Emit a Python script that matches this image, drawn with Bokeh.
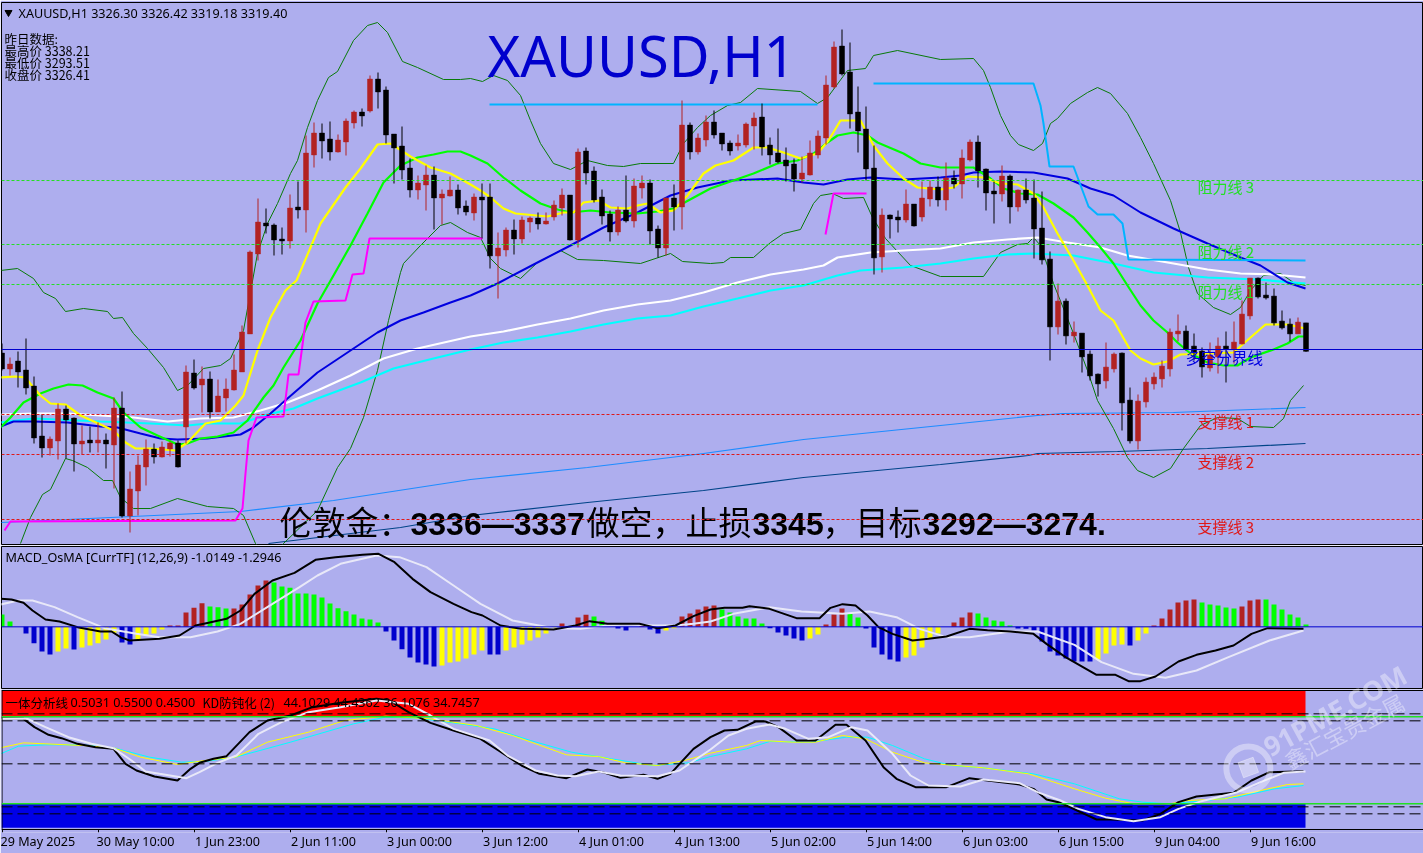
from bokeh.plotting import figure
from bokeh.layouts import column
from bokeh.models import Range1d, Span, LinearAxis, FixedTicker
from bokeh.core.properties import value
from bokeh.embed import file_html
from bokeh.resources import INLINE

# ---------------- candles (XAUUSD H1), oldest first ----------------
opens = [3318.75,3315,3316.75,3314.5,3310.5,3298,3295.25,3297,3304.75,3302.5,3296.25,3297,3296.5,3297,3296,3305,3278.25,3284.5,3290.5,3294.75,
3293,3295,3296.25,3300.5,3313.75,3311,3312.25,3304.25,3307.75,3309.75,3314.25,3323.75,3343.75,3351.25,3350.75,3347.25,3347,3355.25,3354.75,3368.5,
3373.75,3372.25,3369.25,3371.75,3376.5,3379,3379.5,3387.25,3384.5,3373.5,3370.5,3365,3359.75,3361,3363.25,3357.75,3358.25,3359.5,3355.5,3354,
3357.75,3357.75,3343.25,3344.75,3349.5,3347.5,3351.75,3352.5,3351.25,3353,3355.25,3358.25,3347.25,3369.25,3364.25,3357.75,3353.5,3349.25,3354.5,3352,
3360.25,3361.25,3349.75,3345.25,3357.5,3355.5,3375.75,3369.25,3372.25,3376.5,3373.75,3371.25,3370.75,3371,3375.75,3377.75,3370.75,3368.75,3367,3366,
3362.5,3363.5,3368.5,3372.75,3385.5,3395.5,3389,3379,3374.75,3365,3343,3353.25,3352.75,3352.25,3356,3353,3357.5,3360.25,3357.25,3362.5,
3361.25,3367.25,3371.5,3364.75,3359.25,3358.75,3363,3355.5,3359.5,3357.5,3350,3342.25,3325.5,3331.75,3323.25,3323.75,3318.5,3313.5,3312,3315,
3318.75,3307,3297,3306.75,3311.25,3312.5,3315,3323.75,3324.25,3320.5,3319.25,3315.25,3318,3320.5,3320,3321.25,3328.25,3337.5,3333.25,3333,
3326.75,3326,3323.75,3326.3]
highs = [3321.25,3317.75,3319.25,3322.5,3313,3303.5,3298,3306.25,3305.75,3302.75,3300.75,3300.5,3301.5,3298.75,3307.75,3309.25,3289.25,3293.25,3297.25,3296.25,
3296.75,3296.75,3297,3315.75,3317.25,3315.5,3314.25,3312.25,3312.5,3318.5,3325.75,3344.5,3357.5,3355,3351.25,3350.25,3358.5,3361.75,3373.25,3376.5,
3376.25,3376.75,3373.5,3377.5,3379.5,3380,3388.25,3389,3385.5,3373.5,3375.5,3367.5,3363.25,3365.75,3365.5,3359.75,3363,3361,3357,3358.75,
3361.25,3361.25,3349,3350.25,3352.25,3353,3353,3354,3354,3357,3360,3358.25,3370,3370.25,3365.5,3359.75,3354.5,3355.5,3363.25,3362.5,
3363.25,3362.25,3350.75,3357.75,3361,3382,3376.5,3373.75,3378.25,3379.5,3373.75,3372,3373.5,3376.5,3379,3381.25,3372.75,3375,3370.25,3367.5,
3368,3372,3374.5,3388.25,3396.75,3399.75,3396.5,3385.5,3380.5,3370.75,3355,3353.5,3354.5,3359.75,3356,3361.75,3362,3363,3366.5,3364.5,
3369.75,3372.25,3373.25,3365,3361.75,3365.75,3363.5,3359.75,3362.5,3362.25,3359.25,3344.25,3336.25,3332.5,3326.75,3323.75,3319.5,3313.75,3321.5,3319,
3319,3310.25,3308.5,3312.75,3314,3317,3325,3328.5,3325.75,3323.75,3320.25,3321.5,3322.75,3324.25,3326.75,3332,3337.5,3337.75,3336.5,3335,
3329.5,3327.5,3327.75,3326.42]
lows = [3314.5,3313.25,3310.25,3308.5,3296.25,3292.75,3293.25,3292.25,3292.5,3289.25,3293.5,3294,3294,3290,3285,3277.75,3274,3278.25,3285.75,3291.25,
3292.75,3293,3290.25,3296.25,3309.75,3304,3302.5,3304.25,3304.25,3309.5,3314.25,3323.75,3342,3348.75,3343.25,3343.5,3345,3352.5,3349,3365.25,
3367.5,3367,3369,3368.25,3375,3375.5,3379,3380,3371.25,3361.25,3362.25,3357.75,3357.25,3354.5,3349.75,3351,3358,3353.5,3353.25,3352,
3347.5,3340,3332.5,3343,3343.5,3346.25,3349,3349.75,3351,3352,3353.25,3347,3345.25,3361,3356.5,3351,3346.75,3348.25,3351.5,3350.25,
3357.5,3346,3342.75,3343.25,3349.5,3349.75,3367.25,3368.5,3370.5,3372.5,3369.5,3368.25,3369.5,3370.25,3369.75,3368.25,3366,3366.25,3361.75,3359.25,
3361.5,3363.25,3367.5,3371,3385,3388.25,3375,3369,3362,3338.5,3339,3347.5,3349,3351.5,3350.5,3351.75,3355.5,3355.5,3354.5,3360,
3357.5,3366.75,3360.25,3354.5,3351.25,3356.75,3351.25,3354.25,3356.25,3342.5,3341,3317,3323.5,3321,3321.5,3314,3312,3308,3310,3314,
3299.5,3296.25,3294.75,3305.25,3309.75,3310.25,3313,3321.75,3319.5,3317,3312.75,3314.25,3313.75,3311.5,3316.25,3321,3327.25,3332.5,3332.25,3325.75,
3324.75,3321.75,3323.75,3319.18]
closes = [3315,3316,3314.25,3310.25,3297.75,3295.25,3297.25,3304.75,3302.25,3296.25,3296.75,3296.5,3297,3296.25,3305,3278.25,3284.75,3290.75,3294.75,3293,
3295.25,3296.25,3290.5,3314,3310.25,3312.25,3304.25,3308,3309.75,3314.5,3324,3344,3351.5,3350.75,3347.25,3347,3355,3354.75,3368.75,3373.75,
3372,3369.25,3372,3376.75,3379,3378.25,3387.25,3384.25,3373.5,3370.25,3364.75,3359.75,3361.25,3363.25,3357.75,3358.5,3359.5,3355.25,3354.25,3357.75,
3357.25,3343.25,3345,3349.5,3347.5,3352,3352.5,3351.25,3351.75,3355.75,3358.25,3347.25,3369,3364,3357.25,3353.25,3349.25,3354.5,3352,3360.5,
3361.25,3349.5,3345.25,3357.5,3355.5,3375.75,3369.25,3372.5,3376.5,3373.5,3371.25,3369.5,3371.25,3376,3377.5,3370.5,3368.5,3366.75,3365.75,3362.5,
3363.75,3368.75,3373,3385.75,3395.25,3388.75,3378.75,3374.5,3365,3342.75,3353.25,3352.5,3352.25,3356,3350.75,3357.5,3360.25,3357.25,3362.5,3361.25,
3367.5,3371.5,3364.5,3359,3358.75,3363,3355.5,3359.5,3357.25,3350,3342.25,3325.5,3331.75,3323.25,3324,3318,3313.25,3311.25,3315.25,3318.5,
3306.5,3297,3306.75,3311.5,3312.75,3315.5,3324,3324.25,3320,3319,3315.5,3318.25,3320.5,3320,3321.5,3328.5,3337.5,3333,3332.75,3326.5,
3325.25,3323.75,3326.5,3319.4]

# ---------------- main pane overlays: time in 1/8 of a bar, value in price ----------------
yellow_t = [0,15,25,32,40,50,65,80,100,113,125,135,150,175,187,205,220,235,243,257,270,285,296,310,320,345,360,377,390,410,430,450,470,480,490,503,515,547,563,573,583,598,610,627,637,647,660,673,687,703,715,733,753,767,783,800,817,828,840,860,873,887,903,917,940,953,967,983,1000,1017,1033,1043,1057,1073,1087,1100,1113,1130,1140,1153,1167,1180,1207,1233,1250,1265,1287,1305]
yellow_p = [3312.75,3313,3312.75,3310.5,3308.25,3306.25,3306,3303.25,3301,3299.5,3296.5,3295,3295,3294.5,3296.5,3301.25,3302,3305.75,3308.25,3319.5,3327.75,3334.5,3337,3345.25,3351.25,3360.25,3365,3371,3371.25,3368,3365.25,3363.75,3361,3359.5,3357.75,3355,3353.75,3353,3354,3354,3356.5,3357,3355.25,3355,3355.75,3356.25,3354,3354.5,3358.25,3363.75,3365.75,3367,3370.25,3370.25,3369,3367.5,3368.75,3372,3377,3377,3370.75,3366.25,3362.5,3360.25,3359.75,3360.25,3363,3362.75,3361.25,3361,3358.75,3355.25,3348.75,3342,3335.75,3329.5,3327,3319.5,3317.5,3316,3316.75,3318.5,3318.75,3319,3322.75,3326,3326,3325]
green_t = [0,10,23,40,53,68,82,97,113,123,140,157,177,187,200,217,233,247,263,273,283,300,317,333,350,367,383,400,417,433,447,460,470,487,503,520,540,557,570,590,610,637,657,673,697,710,730,753,777,797,813,827,837,853,867,877,903,920,940,973,990,1003,1020,1037,1053,1073,1087,1100,1113,1127,1140,1153,1167,1177,1190,1207,1223,1237,1250,1273,1287,1298,1305]
green_p = [3300.25,3302.75,3306.5,3308.75,3310,3311,3310.75,3309,3307.5,3304,3300.25,3298.25,3296,3296.25,3297.5,3298,3299,3302,3307.75,3310.75,3315.25,3322,3331.25,3338.25,3345.75,3353.75,3361.5,3365.75,3367.75,3368.5,3369.25,3369.25,3368.25,3366.25,3362.75,3359.5,3356.25,3354.75,3354,3354.5,3354,3353.75,3354.25,3355,3358.25,3360,3361.75,3363.75,3366.25,3367,3368.75,3371.5,3373.25,3374,3373.25,3371.5,3368.75,3366.25,3365.25,3365.25,3362.5,3360,3358.75,3358.5,3356.25,3352.75,3349,3345.25,3341.25,3335.75,3330.75,3327,3324,3321.5,3318.75,3316.5,3315.75,3315.75,3317.75,3319.75,3321.25,3323,3323]
blue_t = [0,13,33,67,100,117,140,160,177,207,240,253,270,287,317,350,377,400,423,450,470,497,537,570,603,637,670,697,730,777,803,823,847,870,903,940,960,973,1000,1033,1067,1090,1113,1140,1173,1207,1240,1260,1287,1305]
blue_p = [3300.5,3301.75,3301.75,3301.5,3300.5,3300.25,3298.75,3297.5,3297.25,3297.5,3298.5,3300.25,3303.75,3307.5,3314,3319.5,3324,3327,3329,3331.5,3333.25,3336.25,3341.5,3345.75,3350.25,3354,3358.25,3360.25,3362,3362.5,3361.5,3361,3362.25,3362.75,3362.25,3362.75,3363.25,3364,3364.25,3364,3362.5,3360,3358.25,3354,3350,3346.25,3342.75,3340.75,3336.5,3335]
white_t = [0,33,67,100,133,167,200,233,260,287,317,350,383,417,470,503,537,570,603,637,670,703,737,770,803,823,837,870,903,940,973,1007,1037,1067,1100,1127,1173,1207,1240,1273,1305]
white_p = [3303.5,3303.75,3303.75,3303.25,3302.75,3301.75,3302.5,3302.75,3304.5,3306.5,3309.5,3313.25,3317.5,3320,3323,3324.25,3326,3327.5,3329.5,3331,3332,3334,3336.5,3338.5,3339.75,3340.75,3342.75,3344,3344.5,3345,3346.5,3347.25,3347.75,3346.5,3345.25,3343.25,3341.25,3339.75,3338.75,3338.5,3337.75]
cyan_t = [0,33,100,150,187,207,240,267,293,317,360,393,433,470,503,537,570,603,637,670,703,737,770,803,837,860,903,940,973,1007,1033,1073,1113,1153,1207,1257,1305]
cyan_p = [3301.5,3302.5,3301.75,3301.25,3300.75,3301.25,3301.25,3303.5,3305,3307.5,3311.5,3315,3317.5,3319.75,3321.5,3322.75,3324.25,3326,3327.5,3328.25,3330.5,3332.5,3334.5,3335.75,3338.25,3339.5,3340.25,3341.25,3342.5,3343.5,3343.75,3343.25,3341.25,3339,3337.75,3337.25,3336.25]
bb_up_t = [0,17,33,43,55,65,83,107,113,122,133,147,163,177,187,203,220,230,243,257,267,277,290,297,307,317,328,337,353,367,377,387,402,417,443,460,470,482,493,507,520,530,540,553,570,587,607,623,640,673,683,697,710,727,740,757,800,817,827,847,865,873,897,940,973,983,990,1000,1010,1018,1033,1042,1050,1057,1070,1087,1097,1110,1127,1140,1153,1170,1180,1188,1197,1213,1230,1240,1250,1263,1280,1293,1305]
bb_up_p = [3339.5,3340,3337.5,3334,3332.5,3329.25,3330,3329.25,3327.5,3327.75,3323.75,3320,3315.25,3309.5,3310.75,3315,3315.75,3317.5,3324.5,3343.75,3351.25,3356.25,3363.75,3367,3375.25,3382,3387.75,3389.25,3397,3400.75,3401.5,3399,3391.75,3390.25,3387.25,3387.25,3387.5,3386.75,3388.25,3387,3383.25,3377,3371.25,3366.25,3364.75,3367,3365.75,3365.5,3366.25,3366.25,3371.25,3375.25,3378.25,3380.75,3381.5,3385,3384.25,3381.25,3382.75,3389.5,3390,3393.25,3394.5,3392.25,3392.5,3389.5,3385.25,3378.25,3373.25,3371,3369.5,3371.25,3376.25,3377.5,3381.25,3384,3385.25,3383.75,3378.75,3372.75,3366.25,3357,3349,3340.25,3333.75,3330.25,3328.5,3330.25,3334.5,3338.25,3338.75,3336.5,3335.75]
bb_lo_t = [20,30,42,50,65,72,87,103,112,120,133,150,177,207,233,243,255,270,283,317,337,350,363,377,388,400,403,420,440,450,467,480,490,500,520,537,560,577,603,640,670,682,710,723,730,753,770,783,800,813,820,832,843,863,872,885,910,940,983,1000,1017,1027,1033,1040,1053,1073,1087,1097,1113,1127,1137,1153,1170,1183,1200,1217,1237,1250,1273,1283,1290,1303]
bb_lo_p = [3271.25,3277.75,3283.5,3284.75,3292.5,3292,3290.25,3287,3287,3282.75,3280,3280,3282.5,3280.5,3280,3278.25,3271.25,3267,3271.25,3279.5,3290.25,3295,3302.75,3314.5,3327,3339,3341.25,3345.75,3350.75,3351.5,3349,3347.75,3342.5,3340,3337.5,3341.5,3344.5,3342.25,3342,3341.25,3343.75,3341.75,3341.25,3341.5,3342.75,3342.75,3346.5,3348.75,3349.75,3356.25,3358.25,3358.75,3357.5,3357.75,3352.75,3347.5,3340.75,3338,3338,3344,3346,3346.25,3347.75,3345.75,3336.25,3323.75,3314.5,3307,3300,3292.75,3289.5,3287.75,3290,3295,3300.75,3302.75,3302.5,3300.5,3300.25,3302.5,3307,3310.75]
magenta1_t = [4,10,235,242,245,248,256,283,288,298,305,313,345,352,363,369,482]
magenta1_p = [3274.5,3276.75,3277,3280,3288.75,3297,3302.75,3303,3313.5,3313.5,3326.5,3331.75,3332,3338.5,3338.75,3347.5,3347.5]
magenta2_t = [825,833,866]
magenta2_p = [3348.5,3358.75,3358.75]
sky1_t = [489,817]
sky1_p = [3381,3381]
sky2_t = [873,1033,1040,1043,1049,1073,1088,1097,1113,1122,1128,1305]
sky2_p = [3386.25,3386.25,3380.75,3376.25,3365.5,3365.5,3355.5,3353.5,3353.5,3351.25,3342.25,3342]
dodger_t = [0,67,240,333,470,587,703,803,940,1037,1062,1173,1305]
dodger_p = [3276.5,3277.25,3279.25,3282,3287.25,3290.25,3293.75,3297.25,3300.75,3303.25,3303.75,3304,3305.25]
navy_t = [268,400,470,587,703,803,940,1028,1037,1117,1207,1305]
navy_p = [3271.25,3275.25,3278.25,3281.5,3284.5,3287.75,3291,3293.25,3293.75,3294.25,3295,3296.25]
resistance_levels = [3362, 3346, 3336]
support_levels = [3303.5, 3293.5, 3277.25]
pivot_level = 3319.75

# ---------------- MACD pane ----------------
osma = [9.25,4,0,-5,-12.25,-18.5,-20.75,-18.5,-16.25,-17,-15.5,-14,-12.25,-9.5,-4.5,-11.75,-13.25,-10,-6.75,-5,-2,1,1,10.75,14.25,17.75,15.25,14.75,13.75,13.75,16.75,24.25,31,34.75,33.25,30.25,29.25,25,25,24.25,22,17.5,14,11.75,9.25,6.25,5.5,3.25,-3.5,-10.25,-16.75,-23,-26.75,-28.25,-29.75,-29,-26.75,-26,-23.75,-20.75,-17.75,-20.75,-20.75,-17.75,-15.5,-13.25,-10.25,-8,-5,-2,2.5,0,7,9,7.75,4.5,0,-1.25,-2.75,0,1,-2,-5,-2.75,-1,7.75,10,13,15.25,16,13,10.75,7.75,6.25,6.25,2.5,-1,-4.25,-6.5,-8.75,-10.25,-8.75,-5.75,1.75,9.25,13.75,10,7,-1.25,-15.5,-20.75,-24.5,-26,-23,-21.5,-15.5,-8.75,-5,0,3.25,7,10.75,10,7,4.75,4,1,-1.25,-1.5,-2.75,-11,-18.5,-21.5,-23.75,-26,-26,-26,-24.5,-20,-14,-13.25,-14,-10.25,-5,1,6.25,13,18.25,19.75,20.5,18.25,16.75,16,14.5,13.75,15.25,19.75,20.5,20.5,16.75,13,9.25,7,1.75]
osma_state = list("ggnbbbbyybyyyyybbyyyyrrrrrgggrrrrrggggggggggggggbbbbbbbyyyyyybbyyyyyyyrnrrggnbbnrbbyyrrrrrggggggbbbbbyyrrrggbbbbbyyyyynrrrggggg" "bbbbbbbbbbyyyybyyrrrrrrgggggrrrgggggg")
macd_t = [0,11,23,32,45,59,77,100,111,120,129,159,179,195,208,226,240,254,272,294,315,335,362,378,394,412,430,453,471,482,500,521,553,575,589,607,639,657,675,693,710,724,742,749,769,796,819,830,842,855,867,878,892,912,928,946,969,987,1010,1033,1046,1065,1096,1115,1128,1140,1155,1178,1196,1215,1233,1251,1267,1303]
macd_v = [21,20.5,18,12.25,5.5,4,-0.25,-3.5,-3.5,-7.75,-10.25,-9,-6.5,1,3,6,12.25,24.75,34.75,40.5,50.25,52.25,54,54.75,48.5,36,26,17.25,11,8.5,1,-1.5,-2,1,4.25,2.25,2.25,-1,1,8,13,14.25,14.25,15.5,13.5,6.5,6.5,14.25,17,16,8.5,-0.25,-5.25,-10.25,-9,-7.25,-1.5,-2.5,-3.5,-5.25,-12.75,-22.75,-36,-36,-40.75,-40.75,-37.25,-26,-21,-17.75,-14,-5.25,-1,-1.5]
signal_t = [0,18,32,54,77,104,136,159,190,217,240,272,299,317,340,376,399,426,453,480,512,553,580,607,625,652,675,693,710,733,769,801,842,869,896,919,946,969,1010,1037,1074,1101,1133,1165,1196,1228,1269,1303]
signal_v = [16.75,19.75,19.75,14.75,7.25,-1,-5.25,-7.75,-7.75,-3.5,2.25,17.25,29.75,38.5,47.25,53.5,52.25,44.75,31,17.25,4.75,-1,-1.5,1,2,1,1,2.25,4,9.75,14.75,11.5,9.75,11.5,7.25,-1.5,-7.75,-7.75,-3.5,-3.5,-13.5,-26.5,-35.25,-38.25,-32.75,-22.75,-10.25,-2.75]

# ---------------- KD pane ----------------
k_black_t = [0,23,34,48,61,77,95,113,125,136,154,177,190,199,213,226,249,267,290,312,340,376,389,408,430,453,480,498,521,539,566,587,602,620,643,657,670,693,710,724,737,755,765,778,796,815,835,846,865,883,896,915,946,969,987,1019,1033,1046,1060,1096,1110,1142,1160,1178,1196,1233,1251,1269,1303]
k_black_v = [82.25,81.75,75.5,69.75,67.25,63,60.5,59.25,48,43,38.5,35.5,44.25,48.75,51.75,53.75,71.75,80.5,84.25,90.5,93.75,96.75,95.5,86.75,78.75,73,66.75,58,46.75,40.5,37.25,43.75,41.75,37.5,39.75,36.75,40.5,59.25,68,73,73.5,79.75,79.75,75.5,65.5,65.5,77.25,77.25,65.5,45.5,36.75,30.5,30.5,37.25,35.5,32.5,29.25,21.25,18.75,6.25,6.25,5.5,10.5,19.25,23.5,26.25,35.5,41.75,42.5]
k_white_t = [0,27,45,68,91,113,131,145,159,186,199,217,236,258,281,308,340,376,408,430,453,489,507,535,557,575,598,620,657,679,710,728,746,769,785,808,828,851,867,892,910,928,960,983,1019,1037,1060,1078,1105,1133,1160,1178,1201,1237,1260,1283,1305]
k_white_v = [81.75,81.75,75.5,68,63,59.75,50.5,42.25,40.5,37.25,41.75,48.75,54.25,70.5,79.25,86.75,90.5,95.5,93,84.25,74.25,65.5,54.25,43,39.25,38.75,42.25,39.25,38.75,43,58.75,69.25,74.25,77.5,74.25,66.75,68,75.5,73,55.5,39.25,31.75,31,36.25,33.5,26.75,20.5,14.25,8,5,8,14.25,20,26.75,34.25,41.25,42.25]
d_yellow_t = [0,23,45,82,113,140,177,204,235,267,308,344,385,430,476,512,566,598,625,657,684,710,746,760,792,815,842,865,892,924,983,1028,1074,1105,1133,1169,1187,1224,1260,1287,1303]
d_yellow_v = [60,63.75,63,61.75,60,53,47.5,50.5,53,64.25,71.75,80.5,83.75,81.75,76.75,69.25,54.75,53.5,48.75,46.75,50.5,56,61.75,65.5,64.25,64.25,69.25,66.75,56.75,48.75,45,40.5,29.25,22.25,18,18,20.5,21.75,28,32.5,33]
d_cyan_t = [0,18,45,82,113,149,181,204,235,290,353,385,417,453,494,530,571,611,652,688,710,746,769,810,846,867,892,924,951,983,1033,1074,1119,1142,1169,1205,1237,1274,1303]
d_cyan_v = [55.5,61.25,62.25,62.25,60,53,49.25,49.75,53,64.25,78,83,82.25,78.75,74.25,65.5,56.75,51.75,46.75,48.75,53.5,59.25,64.75,64.25,68,68,61.75,51.75,46.75,45,40.5,33,21.75,19.25,18,20.5,23,29.25,31.75]
kd_upper_band = 83.25
kd_lower_band = 18
kd_dashes = [85.5, 80.25, 48, 15.75, 10.5]

tick_labels = ["29 May 2025","30 May 10:00","1 Jun 23:00","2 Jun 11:00","3 Jun 00:00","3 Jun 12:00","4 Jun 01:00",
               "4 Jun 13:00","5 Jun 02:00","5 Jun 14:00","6 Jun 03:00","6 Jun 15:00","9 Jun 04:00","9 Jun 16:00"]

BG = "#AEAEEE"
BAR_UNIT = 8          # time units per bar
FIRST_BAR = 1.5
BROWN = "#B22222"
CJK = "Noto Sans CJK SC"
LATIN = "Noto Sans"


def pane(height, y0, y1, top, bottom, below=False, outline="black"):
    f = figure(width=1423, height=height, output_backend="svg", toolbar_location=None,
               x_range=Range1d(1, 1423), y_range=Range1d(y0, y1),
               x_axis_location="below" if below else None, y_axis_location=None,
               background_fill_color=BG, border_fill_color=BG, outline_line_color=outline,
               min_border_left=1, min_border_right=0, min_border_top=top, min_border_bottom=bottom)
    f.grid.visible = False
    return f


def put(f, x, y, s, size, color="black", font=LATIN, style="normal", angle=0, alpha=1.0, align="left"):
    f.text(x=[x], y=[y], text=[s], text_font=value(font), text_font_size=f"{size}px", text_color=color,
           text_font_style=style, text_baseline="middle", text_align=align, angle=angle, text_alpha=alpha)


def hline(f, level, color, dash="solid", width=1):
    f.add_layout(Span(location=level, dimension="width", line_color=color, line_dash=dash, line_width=width))


# ---------------- main pane ----------------
p1 = pane(545, 3271, 3406.5, 2, 1)
for lv in resistance_levels:
    hline(p1, lv, "#22E022", "3 2")
for lv in support_levels:
    hline(p1, lv, "#E01818", "3 2")
hline(p1, pivot_level, "#0000CD")

p1.line(dodger_t, dodger_p, line_color="#1E8CFF", line_width=1.2)
p1.line(navy_t, navy_p, line_color="#004488", line_width=1.2)
p1.line(bb_up_t, bb_up_p, line_color="#087A08", line_width=1)
p1.line(bb_lo_t, bb_lo_p, line_color="#087A08", line_width=1)
p1.line(white_t, white_p, line_color="white", line_width=2.2)
p1.line(cyan_t, cyan_p, line_color="#00FFFF", line_width=2.2)
p1.line(blue_t, blue_p, line_color="#0000E0", line_width=2)
p1.line(green_t, green_p, line_color="#00FF00", line_width=2.2)
p1.line(yellow_t, yellow_p, line_color="#FFFF00", line_width=2.2)
p1.line(magenta1_t, magenta1_p, line_color="#FF00FF", line_width=2)
p1.line(magenta2_t, magenta2_p, line_color="#FF00FF", line_width=2)
p1.line(sky1_t, sky1_p, line_color="#00B4FF", line_width=2)
p1.line(sky2_t, sky2_p, line_color="#00B4FF", line_width=2)

bar_t = [FIRST_BAR + BAR_UNIT * i for i in range(len(opens))]
colors = [BROWN if c >= o else "black" for o, c in zip(opens, closes)]
p1.segment(bar_t, lows, bar_t, highs, line_color=colors, line_width=1)
p1.vbar(x=bar_t, width=5, bottom=[min(o, c) - 0.1 for o, c in zip(opens, closes)],
        top=[max(o, c) + 0.1 for o, c in zip(opens, closes)], fill_color=colors, line_color=colors, line_width=0.5)


def py(px):
    return 3407 - px / 4


p1.scatter([8], [py(12)], marker="inverted_triangle", size=7, color="black")
put(p1, 18, py(12.5), "XAUUSD,H1   3326.30 3326.42 3319.18 3319.40", 12.6)
put(p1, 4, py(38), "昨日数据:", 12.5, font=CJK)
put(p1, 4, py(50), "最高价 3338.21", 12.5, font=CJK)
put(p1, 4, py(62), "最低价 3293.51", 12.5, font=CJK)
put(p1, 4, py(74), "收盘价 3326.41", 12.5, font=CJK)
put(p1, 487, py(54), "XAUUSD,H1", 56, color="#0000CD")

for s, y in (("阻力线 3", 186), ("阻力线 2", 251), ("阻力线 1", 291)):
    put(p1, 1197, py(y), s, 15, color="#22E022", font=CJK)
put(p1, 1185, py(356), "多空分界线", 15.5, color="#0000E0", font=CJK)
for s, y in (("支撑线 1", 421), ("支撑线 2", 461), ("支撑线 3", 526)):
    put(p1, 1197, py(y), s, 15, color="#E01818", font=CJK)

BOLD = "Liberation Sans"
for x, s, font, st in ((279, "伦敦金：", CJK, "normal"), (410, "3336—3337", BOLD, "bold"), (586, "做空，止损", CJK, "normal"),
                       (752, "3345", BOLD, "bold"), (822, "，目标", CJK, "normal"), (922, "3292—3274.", BOLD, "bold")):
    put(p1, x, py(520.5 if font == CJK else 523), s, 32 if font == BOLD else 33, font=font, style=st)

# ---------------- MACD pane ----------------
p2 = pane(144, -46.25, 60.25, 1, 1)
pal = {"g": "#00FF00", "b": "#0000CD", "y": "#FFFF00", "r": BROWN, "n": BG}
p2.vbar(x=bar_t, width=5, bottom=0, top=osma, fill_color=[pal[c] for c in osma_state], line_color=None)
hline(p2, 0, "#0000CD")
p2.line(signal_t, signal_v, line_color="#E8E8F8", line_width=2)
p2.line(macd_t, macd_v, line_color="black", line_width=2)
put(p2, 5, 52, "MACD_OsMA [CurrTF] (12,26,9) -1.0149 -1.2946", 12.6)

# ---------------- KD pane ----------------
KD_TOP = 103.75
KD_AXIS = -1.25
KD_TICK_END = -3.5
p3 = pane(164, KD_TICK_END, KD_TOP, 0, 21, below=True, outline=None)
p3.quad(left=[1], right=[1305], bottom=[kd_upper_band], top=[103], fill_color="#FF0000", line_color=None)
p3.quad(left=[1], right=[1305], bottom=[0], top=[kd_lower_band], fill_color="#0000E6", line_color=None)
hline(p3, kd_upper_band, "#22E022", width=1.5)
hline(p3, kd_lower_band, "#22E022", width=1.5)
for lv in kd_dashes:
    hline(p3, lv, "black", "11 5")
p3.line(d_cyan_t, d_cyan_v, line_color="#00FFFF", line_width=1)
p3.line(d_yellow_t, d_yellow_v, line_color="#FFFF00", line_width=1)
p3.line(k_black_t, k_black_v, line_color="black", line_width=2)
p3.line(k_white_t, k_white_v, line_color="#E8E8F8", line_width=2)
put(p3, 5, 94, "一体分析线", 12.5, font=CJK)
put(p3, 70, 94, "0.5031 0.5500 0.4500", 12.6)
put(p3, 202, 94, "KD防钝化 (2)", 12.5, font=CJK)
put(p3, 283, 94, "44.1029 44.4362 36.1076 34.7457", 12.6)

# pane border and tick marks, labels on the real axis below
hline(p3, 103, "black")
hline(p3, KD_AXIS, "black")
p3.segment([1.5], [KD_AXIS], [1.5], [103], line_color="black", line_width=1)
tick_pos = [2 + 12 * BAR_UNIT * k for k in range(len(tick_labels))]
p3.segment(tick_pos, [KD_AXIS] * len(tick_pos), tick_pos, [KD_TICK_END] * len(tick_pos), line_color="black", line_width=1)

label_half = [35, 37] + [33] * (len(tick_labels) - 2)
label_pos = [t + h for t, h in zip(tick_pos, label_half)]
ax = p3.xaxis[0]
ax.ticker = FixedTicker(ticks=label_pos)
ax.major_label_overrides = dict(zip(label_pos, tick_labels))
ax.major_label_text_font = LATIN
ax.major_label_text_font_size = "12.6px"
ax.major_label_text_color = "black"
ax.major_label_standoff = 0
ax.major_tick_in = 0
ax.major_tick_out = 0
ax.minor_tick_in = 0
ax.minor_tick_out = 0
ax.major_tick_line_color = None
ax.minor_tick_line_color = None
ax.axis_line_color = None

# ---------------- watermark, laid over the two lower panes ----------------
wm = figure(width=208, height=215, output_backend="svg", toolbar_location=None,
            x_range=Range1d(1215, 1423), y_range=Range1d(850, 635), x_axis_location=None, y_axis_location=None,
            background_fill_color=None, border_fill_color=None, outline_line_color=None, min_border=0,
            styles={"position": "absolute", "left": "1215px", "top": "635px"})
wm.grid.visible = False
put(wm, 1334, 710, "91PME.COM", 27, color="white", style="bold", angle=0.5, alpha=0.38, align="center")
put(wm, 1343, 730, "鑫汇宝贵金属", 22, color="white", font=CJK, angle=0.49, alpha=0.38, align="center")
wm.scatter([1247], [768], marker="circle", size=44, fill_color=None, line_color="white", line_width=6, line_alpha=0.38)
wm.scatter([1247], [767], marker="square", size=16, angle=0.35, color="white", alpha=0.38)

root = column(p1, p2, p3, wm, spacing=0, styles={"position": "fixed", "left": "0", "top": "0"})
open("out.html", "w").write(file_html(root, INLINE))
